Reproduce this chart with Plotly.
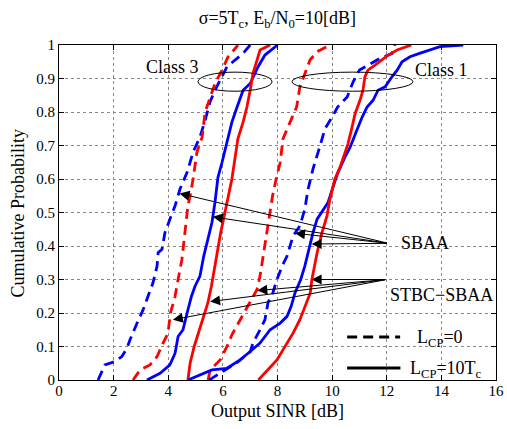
import plotly.graph_objects as go

# ---------------- data ----------------
x_ticks = [0, 2, 4, 6, 8, 10, 12, 14, 16]
y_ticks = [0, 0.1, 0.2, 0.3, 0.4, 0.5, 0.6, 0.7, 0.8, 0.9, 1]

# Class 3
c3_blue_dash_x = [1.43, 1.68, 2.05, 2.3, 2.49, 2.6, 2.86, 3.08, 3.26, 3.44, 3.59, 3.63, 3.77, 3.88, 4.06, 4.25,
                  4.43, 4.69, 4.91, 5.16, 5.35, 5.53, 5.71, 5.9, 6.15, 6.52, 6.74, 7.0]
c3_blue_dash_y = [0.0, 0.045, 0.055, 0.07, 0.095, 0.12, 0.17, 0.21, 0.25, 0.29, 0.34, 0.38, 0.39, 0.44, 0.48, 0.52,
                  0.57, 0.62, 0.68, 0.725, 0.775, 0.83, 0.865, 0.895, 0.935, 0.96, 0.975, 1.0]

c3_red_dash_x = [2.71, 2.97, 3.33, 3.59, 3.81, 3.99, 4.08, 4.25, 4.36, 4.5, 4.61, 4.72, 4.8, 4.91, 5.05, 5.24,
                 5.35, 5.53, 5.71, 5.97, 6.19, 6.4, 6.55]
c3_red_dash_y = [0.0, 0.03, 0.045, 0.07, 0.11, 0.14, 0.2, 0.25, 0.3, 0.36, 0.44, 0.52, 0.55, 0.6, 0.68, 0.725,
                 0.8, 0.845, 0.885, 0.925, 0.965, 0.985, 1.0]

c3_blue_solid_x = [3.22, 3.7, 4.06, 4.25, 4.36, 4.54, 4.69, 4.85, 4.98, 5.16, 5.3, 5.46, 5.6, 5.71, 5.82, 5.97,
                   6.15, 6.33, 6.52, 6.74, 7.0, 7.18, 7.29, 7.54, 7.84, 8.0]
c3_blue_solid_y = [0.0, 0.02, 0.045, 0.08, 0.13, 0.15, 0.2, 0.25, 0.28, 0.31, 0.37, 0.42, 0.47, 0.53, 0.605, 0.65,
                   0.71, 0.77, 0.815, 0.865, 0.885, 0.915, 0.935, 0.97, 0.99, 1.0]

c3_red_solid_x = [4.72, 4.8, 4.95, 5.1, 5.25, 5.45, 5.58, 5.7, 5.8, 5.92, 6.05, 6.17, 6.33, 6.44, 6.55, 6.74,
                  6.88, 7.0, 7.1, 7.25, 7.36, 7.73]
c3_red_solid_y = [0.0, 0.05, 0.1, 0.14, 0.18, 0.23, 0.28, 0.34, 0.38, 0.44, 0.49, 0.535, 0.6, 0.66, 0.72, 0.77,
                  0.815, 0.865, 0.915, 0.955, 0.985, 1.0]

# Class 1
c1_red_dash_x = [5.46, 5.53, 5.78, 5.9, 6.15, 6.33, 6.5, 6.7, 6.9, 7.05, 7.25, 7.36, 7.5, 7.62, 7.72, 7.82,
                 7.95, 8.1, 8.2, 8.46, 8.7, 8.82, 9.0, 9.19, 9.45, 9.92]
c1_red_dash_y = [0.0, 0.03, 0.05, 0.06, 0.1, 0.135, 0.16, 0.19, 0.22, 0.24, 0.27, 0.31, 0.38, 0.44, 0.5, 0.55,
                 0.6, 0.65, 0.72, 0.77, 0.815, 0.875, 0.915, 0.955, 0.98, 1.0]

c1_blue_dash_x = [5.5, 6.19, 6.55, 7.0, 7.1, 7.36, 7.54, 7.65, 7.83, 7.98, 8.17, 8.35, 8.57, 8.82, 9.0, 9.12,
                  9.3, 9.56, 9.74, 10.0, 10.2, 10.55, 10.77, 11.0, 11.4, 11.75, 12.2, 12.3]
c1_blue_dash_y = [0.0, 0.036, 0.054, 0.084, 0.11, 0.15, 0.18, 0.23, 0.26, 0.30, 0.34, 0.37, 0.43, 0.46, 0.51, 0.57,
                  0.63, 0.70, 0.75, 0.785, 0.815, 0.845, 0.89, 0.925, 0.945, 0.96, 0.975, 1.0]

c1_blue_solid_x = [4.72, 5.6, 6.15, 6.63, 7.0, 7.36, 7.73, 8.1, 8.35, 8.5, 8.64, 8.85, 9.0, 9.15, 9.3, 9.45,
                   9.6, 9.85, 10.03, 10.2, 10.47, 10.66, 10.9, 11.1, 11.28, 11.5, 11.68, 11.94, 12.19, 12.38,
                   12.56, 12.85, 13.2, 13.6, 13.95, 14.8]
c1_blue_solid_y = [0.0, 0.03, 0.035, 0.06, 0.085, 0.11, 0.15, 0.17, 0.19, 0.22, 0.26, 0.3, 0.34, 0.39, 0.44, 0.48,
                   0.5, 0.53, 0.575, 0.617, 0.665, 0.695, 0.745, 0.785, 0.815, 0.835, 0.865, 0.875, 0.905, 0.925,
                   0.95, 0.965, 0.975, 0.985, 0.995, 1.0]

c1_red_solid_x = [7.3, 7.98, 8.2, 8.57, 8.82, 9.0, 9.2, 9.26, 9.45, 9.63, 9.81, 9.92, 10.0, 10.1, 10.29, 10.47,
                  10.58, 10.73, 10.84, 11.02, 11.13, 11.2, 11.31, 11.57, 11.83, 12.05, 12.38, 12.9]
c1_red_solid_y = [0.0, 0.06, 0.09, 0.14, 0.18, 0.22, 0.26, 0.30, 0.38, 0.44, 0.49, 0.54, 0.567, 0.6, 0.635, 0.675,
                  0.705, 0.755, 0.795, 0.835, 0.865, 0.905, 0.925, 0.94, 0.955, 0.97, 0.985, 1.0]

# annotation text / arrows
sbaa_tail = (12.06, 0.408)
sbaa_heads_x = [4.41, 5.63, 8.64, 9.25]
sbaa_heads_y = [0.557, 0.487, 0.438, 0.406]
stbc_tail = (12.0, 0.30)
stbc_heads_x = [4.17, 5.53, 7.26, 9.25]
stbc_heads_y = [0.18, 0.234, 0.267, 0.30]

FONT = "Liberation Serif"
BLUE = "rgb(0,0,255)"
RED = "rgb(255,0,0)"
DASH = "10px,6px"
LW = 2.8

fig = go.Figure()

curves = [
    (c3_blue_dash_x, c3_blue_dash_y, BLUE, DASH),
    (c3_red_dash_x, c3_red_dash_y, RED, DASH),
    (c3_blue_solid_x, c3_blue_solid_y, BLUE, "solid"),
    (c3_red_solid_x, c3_red_solid_y, RED, "solid"),
    (c1_red_dash_x, c1_red_dash_y, RED, DASH),
    (c1_blue_dash_x, c1_blue_dash_y, BLUE, DASH),
    (c1_blue_solid_x, c1_blue_solid_y, BLUE, "solid"),
    (c1_red_solid_x, c1_red_solid_y, RED, "solid"),
]
for xs, ys, col, dash in curves:
    fig.add_trace(go.Scatter(x=xs, y=ys, mode="lines",
                             line=dict(color=col, width=LW, dash=dash),
                             showlegend=False, hoverinfo="skip"))

annotations = []
for hx, hy in zip(sbaa_heads_x, sbaa_heads_y):
    annotations.append(dict(x=hx, y=hy, ax=sbaa_tail[0], ay=sbaa_tail[1], xref="x", yref="y",
                            axref="x", ayref="y", text="", showarrow=True, arrowhead=2,
                            arrowsize=2, arrowwidth=1, arrowcolor="black"))
for hx, hy in zip(stbc_heads_x, stbc_heads_y):
    annotations.append(dict(x=hx, y=hy, ax=stbc_tail[0], ay=stbc_tail[1], xref="x", yref="y",
                            axref="x", ayref="y", text="", showarrow=True, arrowhead=2,
                            arrowsize=2, arrowwidth=1, arrowcolor="black"))

tf = dict(family=FONT, size=18, color="black")
annotations += [
    dict(x=4.14, y=0.934, xref="x", yref="y", text="Class 3", showarrow=False, font=tf),
    dict(x=13.99, y=0.925, xref="x", yref="y", text="Class 1", showarrow=False, font=tf),
    dict(x=12.45, y=0.41, xref="x", yref="y", text="SBAA", showarrow=False, font=tf, xanchor="left"),
    dict(x=12.03, y=0.255, xref="x", yref="y", text="STBC\u2212SBAA", showarrow=False, font=tf,
         xanchor="left"),
    dict(x=13.02, y=0.125, xref="x", yref="y", text="L<sub>CP</sub>=0", showarrow=False, font=tf,
         xanchor="left"),
    dict(x=12.76, y=0.03, xref="x", yref="y", text="L<sub>CP</sub>=10T<sub>c</sub>", showarrow=False,
         font=tf, xanchor="left"),
    dict(x=0.5, y=-0.092, xref="paper", yref="paper", text="Output SINR [dB]", showarrow=False,
         font=tf, yanchor="middle"),
    dict(x=-0.094, y=0.5, xref="paper", yref="paper", text="Cumulative Probability", showarrow=False,
         font=tf, textangle=-90, xanchor="center", yanchor="middle"),
]

shapes = [
    dict(type="circle", xref="x", yref="y", x0=5.09, x1=7.8, y0=0.862, y1=0.919,
         line=dict(color="black", width=1)),
    dict(type="circle", xref="x", yref="y", x0=8.53, x1=12.96, y0=0.862, y1=0.919,
         line=dict(color="black", width=1)),
    dict(type="line", xref="x", yref="y", x0=10.55, x1=12.49, y0=0.128, y1=0.128,
         line=dict(color="black", width=3, dash=DASH)),
    dict(type="line", xref="x", yref="y", x0=10.55, x1=12.5, y0=0.036, y1=0.036,
         line=dict(color="black", width=3)),
]

axis_common = dict(showline=True, linecolor="black", linewidth=1, mirror="ticks", ticks="inside",
                   ticklen=5, tickcolor="black", showgrid=True, gridcolor="#888888", griddash="dot",
                   gridwidth=1, zeroline=False, automargin=False,
                   tickfont=dict(family=FONT, size=15, color="black"))

fig.update_layout(
    template="none",
    width=507, height=429,
    margin=dict(l=59, r=11, t=45, b=49),
    paper_bgcolor="white", plot_bgcolor="white",
    font=dict(family=FONT, color="black"),
    title=dict(text="\u03c3=5T<sub>c</sub>, E<sub>b</sub>/N<sub>0</sub>=10[dB]",
               x=0.547, xref="container", xanchor="center",
               y=0.958, yref="container", yanchor="middle",
               font=dict(family=FONT, size=18, color="black")),
    xaxis=dict(range=[0, 16], tickvals=x_ticks, ticklabelstandoff=-3, **axis_common),
    yaxis=dict(range=[0, 1], tickvals=y_ticks, **axis_common),
    annotations=annotations,
    shapes=shapes,
)

fig.write_html("out.html")
